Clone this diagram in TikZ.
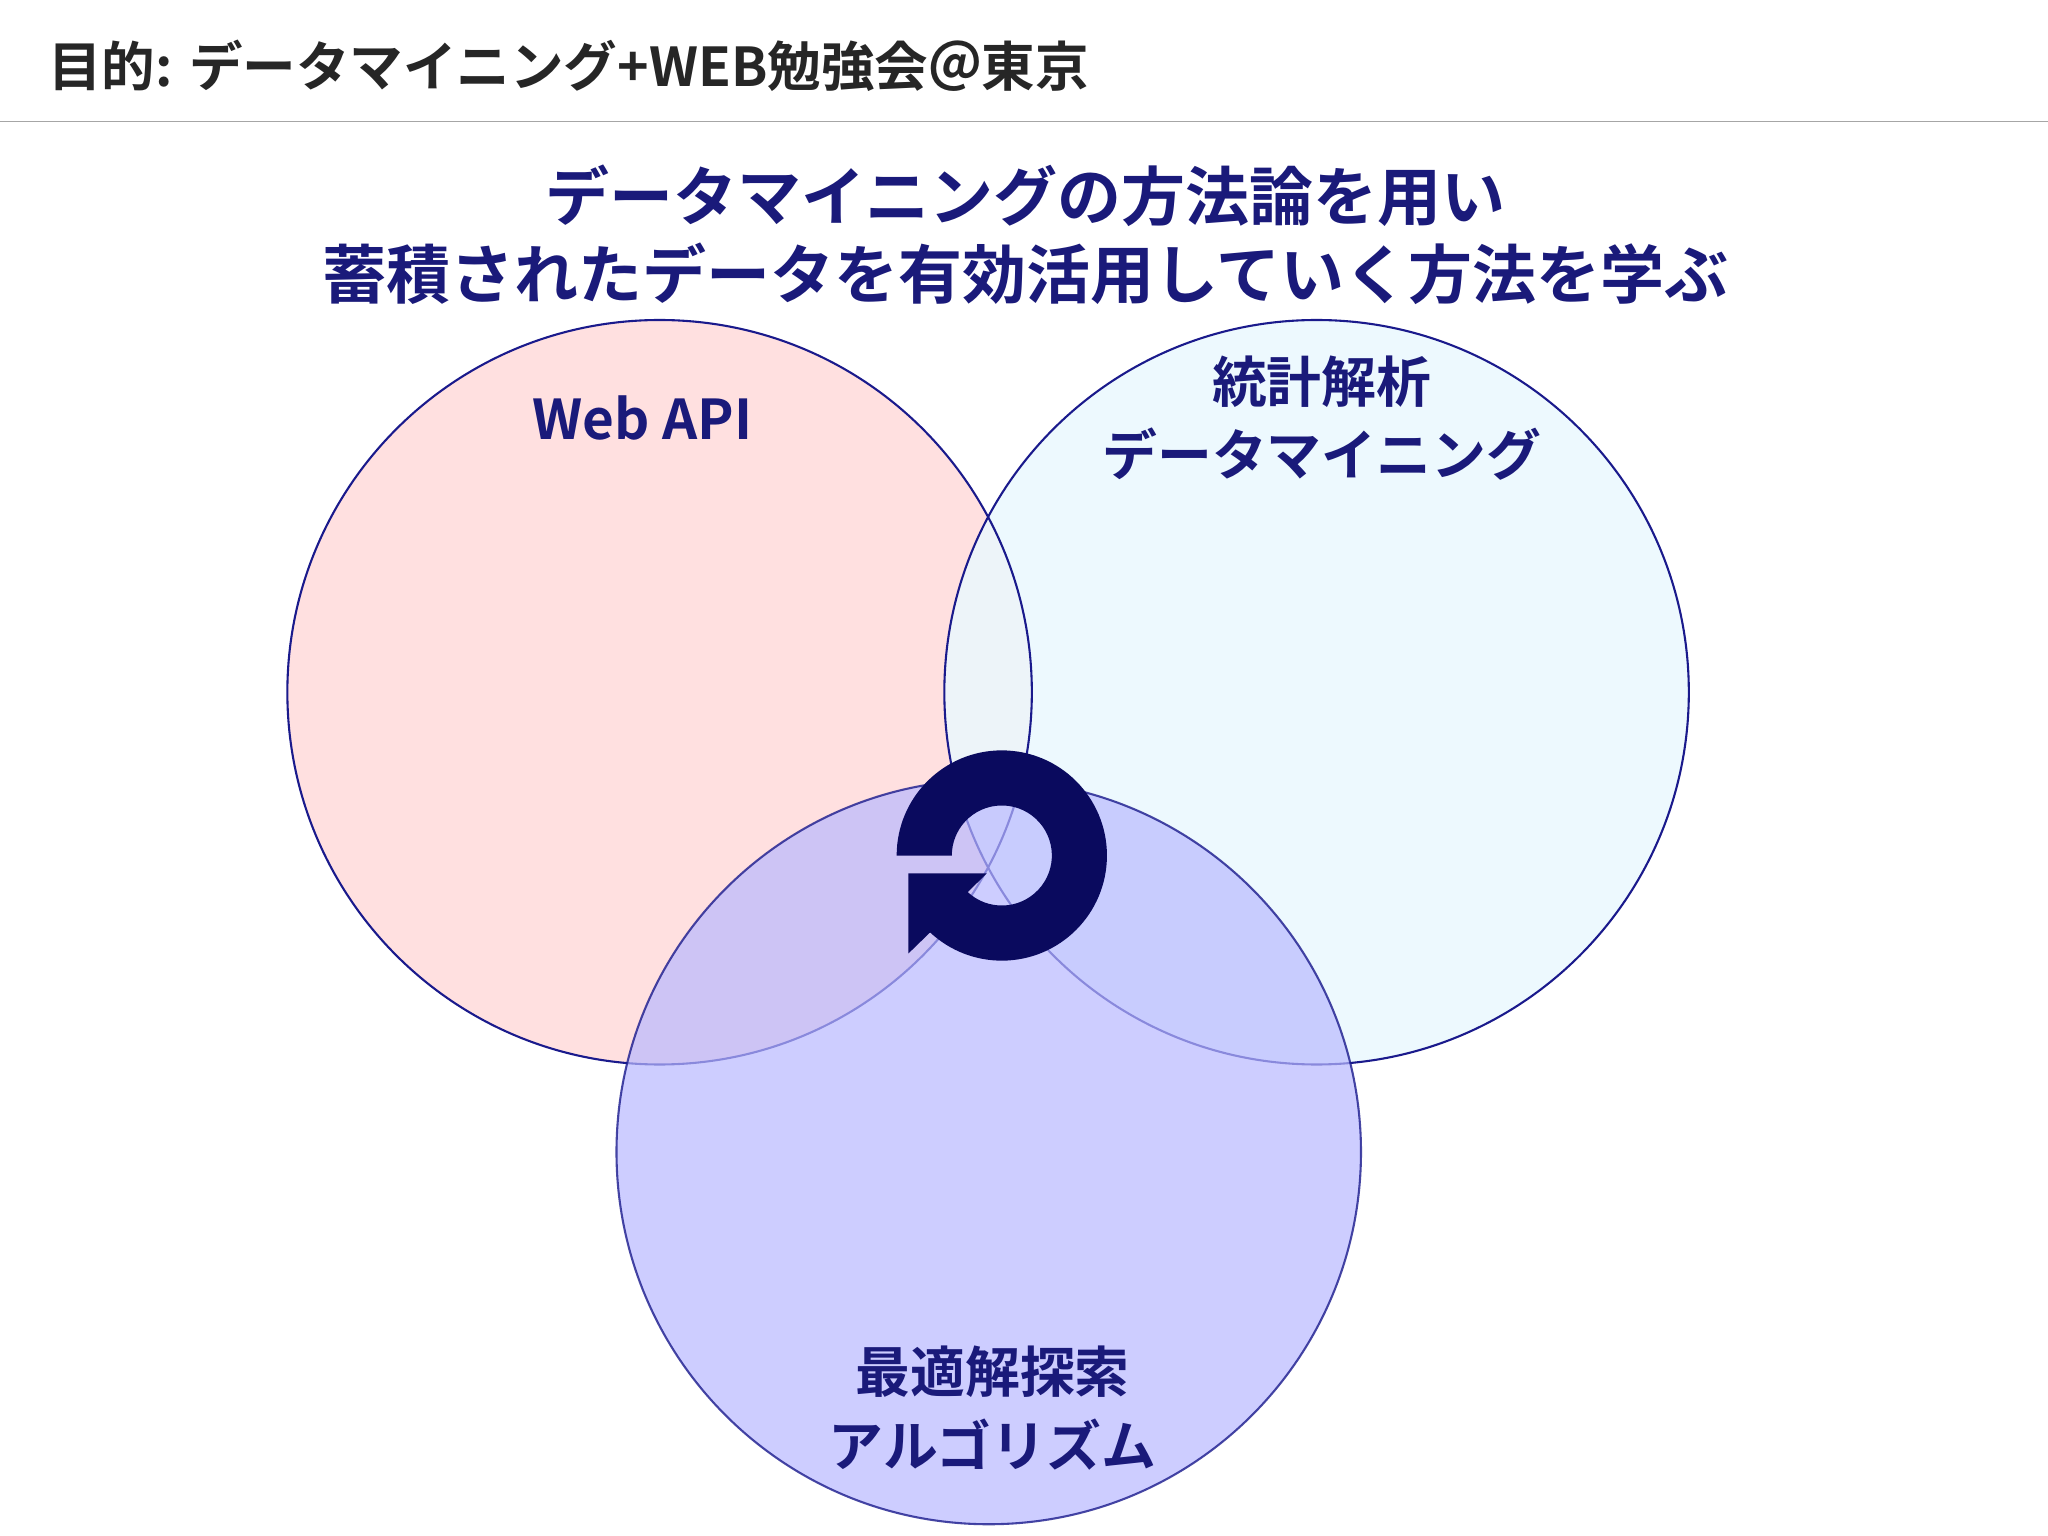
\documentclass[tikz,border=0pt]{standalone}
\usepackage{fontspec}
\newfontfamily\jp{Noto Sans CJK JP Bold}
\definecolor{navy}{HTML}{1A1A7A}
\definecolor{ring}{HTML}{0A0A5E}
\definecolor{edge}{HTML}{1A1A8C}
\begin{document}
\begin{tikzpicture}[x=0.5pt,y=-0.5pt,
  circ/.style={draw=edge,line width=0.8pt},
  lbl/.style={text=navy,font=\jp\fontsize{21pt}{28pt}\selectfont,align=center}]
\useasboundingbox (0,0) rectangle (1568,1176);
\fill[white] (0,0) rectangle (1568,1176);
\node[anchor=west,font=\jp\fontsize{20.5pt}{24pt}\selectfont,text=black!85] (title) at (30,50) {目的: データマイニング+WEB勉強会＠東京};
\draw[gray!70,line width=0.6pt] (0,93) coordinate (l1) -- (1568,93) coordinate (l2);
\node[text=navy,font=\jp\fontsize{24.5pt}{30pt}\selectfont,align=center] (head) at (785,180) {データマイニングの方法論を用い\\蓄積されたデータを有効活用していく方法を学ぶ};
\fill[fill=red!12] (505,530) circle[radius=142.5pt];
\fill[fill=cyan!8,fill opacity=0.85] (1008,530) circle[radius=142.5pt];
\draw[circ] (505,530) circle[radius=142.5pt];
\draw[circ] (1008,530) circle[radius=142.5pt];
\fill[fill={rgb,255:red,185;green,185;blue,255},fill opacity=0.7] (757,882) circle[radius=142.5pt];
\draw[circ,draw opacity=0.8] (757,882) circle[radius=142.5pt];
\node[lbl] (a) at (492,320) {Web API};
\node[lbl] (b) at (1012,320) {統計解析\\データマイニング};
\node[lbl] (c) at (760,1078) {最適解探索\\アルゴリズム};
\fill[ring] (686.5,655) arc[start angle=180,end angle=-133,radius=40.25pt]
  -- (695.5,730) -- (695.5,668.7) -- (755.5,668.7) -- (740.9,683)
  arc[start angle=-133,end angle=180,radius=19.15pt] -- cycle;
\end{tikzpicture}
\end{document}
